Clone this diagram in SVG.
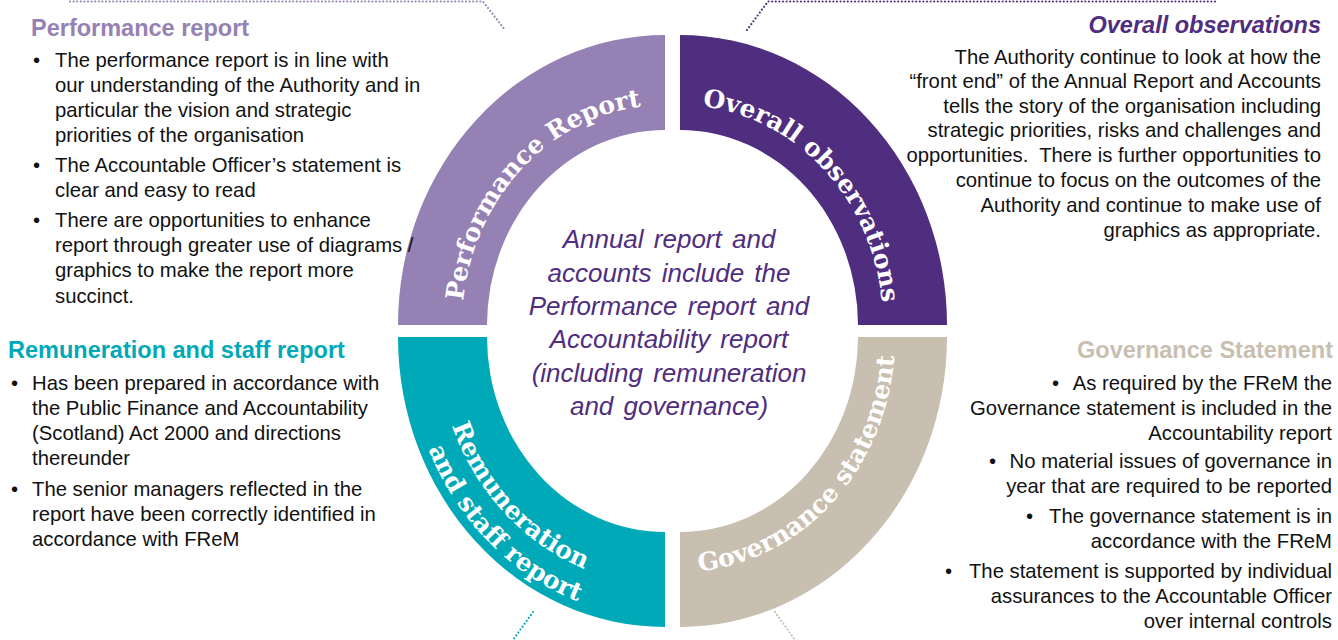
<svg xmlns="http://www.w3.org/2000/svg" width="1338" height="640" viewBox="0 0 1338 640">
<style>
.body{font-family:"Liberation Sans",Arial,sans-serif;font-size:20.3px;fill:#111}
.r{text-anchor:end}
.ttl{font-family:"Liberation Sans",Arial,sans-serif;font-size:23.5px;font-weight:bold}
.ring{font-family:"DejaVu Serif","Liberation Serif",serif;font-weight:bold;font-size:25px;fill:#fff}
.ctr{font-family:"Liberation Sans",Arial,sans-serif;font-size:26px;font-style:italic;fill:#4F2D7F;text-anchor:middle;word-spacing:3px}
.dot{fill:none;stroke-width:2.2;stroke-dasharray:0 3.6;stroke-linecap:round}
</style>
<defs>
<path id="pPR" d="M 462 325 A 203 220 0 0 1 665 105"/>
<path id="pOO" d="M 680 105 A 203 220 0 0 1 883 325"/>
<path id="pGS" d="M 680 572 A 215 235 0 0 0 895 337"/>
<path id="pR1" d="M 437 337 A 228 248 0 0 0 665 585"/>
<path id="pR2" d="M 407 337 A 258 281 0 0 0 665 618"/>
</defs>

<g id="connectors">
<polyline class="dot" stroke="#9581B3" points="70,1.5 483,1.5 505,30"/>
<polyline class="dot" stroke="#4F2D7F" points="747,30 768,1.5 1218,1.5"/>
<polyline class="dot" stroke="#00A9B7" points="533,612 513,640"/>
<polyline class="dot" stroke="#C9BFB1" points="775,612 795,640"/>
</g>

<g id="performance-report">
<path fill="#9581B3" d="M 398 325 A 267 290 0 0 1 665 35 L 665 130 A 178 195 0 0 0 487 325 Z"/>
<text class="ring" font-size="26"><textPath href="#pPR" startOffset="50%" text-anchor="middle">Performance Report</textPath></text>
<text class="ttl" x="31" y="36" fill="#9581B3">Performance report</text>
<g class="body">
<text x="33" y="67">•</text>
<text x="55" y="67">The performance report is in line with</text>
<text x="55" y="92">our understanding of the Authority and in</text>
<text x="55" y="117">particular the vision and strategic</text>
<text x="55" y="142">priorities of the organisation</text>
<text x="33" y="172">•</text>
<text x="55" y="172">The Accountable Officer’s statement is</text>
<text x="55" y="197">clear and easy to read</text>
<text x="33" y="227">•</text>
<text x="55" y="227">There are opportunities to enhance</text>
<text x="55" y="252">report through greater use of diagrams /</text>
<text x="55" y="277">graphics to make the report more</text>
<text x="55" y="303">succinct.</text>
</g>
</g>

<g id="overall-observations">
<path fill="#4F2D7F" d="M 680 35 A 267 290 0 0 1 947 325 L 858 325 A 178 195 0 0 0 680 130 Z"/>
<text class="ring"><textPath href="#pOO" startOffset="50%" text-anchor="middle">Overall observations</textPath></text>
<text class="ttl r" x="1321" y="33" fill="#4F2D7F" font-style="italic">Overall observations</text>
<g class="body r">
<text x="1321" y="64">The Authority continue to look at how the</text>
<text x="1321" y="88">“front end” of the Annual Report and Accounts</text>
<text x="1321" y="113">tells the story of the organisation including</text>
<text x="1321" y="137">strategic priorities, risks and challenges and</text>
<text x="1321" y="162">opportunities.&#160; There is further opportunities to</text>
<text x="1321" y="187">continue to focus on the outcomes of the</text>
<text x="1321" y="212">Authority and continue to make use of</text>
<text x="1321" y="237">graphics as appropriate.</text>
</g>
</g>

<g id="remuneration-staff-report">
<path fill="#00A9B7" d="M 398 337 A 267 290 0 0 0 665 627 L 665 532 A 178 195 0 0 1 487 337 Z"/>
<text class="ring"><textPath href="#pR1" startOffset="51%" text-anchor="middle">Remuneration</textPath></text>
<text class="ring"><textPath href="#pR2" startOffset="53%" text-anchor="middle">and staff report</textPath></text>
<text class="ttl" x="8" y="358" fill="#00A9B7">Remuneration and staff report</text>
<g class="body">
<text x="11" y="390">•</text>
<text x="32" y="390">Has been prepared in accordance with</text>
<text x="32" y="415">the Public Finance and Accountability</text>
<text x="32" y="440">(Scotland) Act 2000 and directions</text>
<text x="32" y="465">thereunder</text>
<text x="11" y="496">•</text>
<text x="32" y="496">The senior managers reflected in the</text>
<text x="32" y="521">report have been correctly identified in</text>
<text x="32" y="546">accordance with FReM</text>
</g>
</g>

<g id="governance-statement">
<path fill="#C9BFB1" d="M 680 627 A 267 290 0 0 0 947 337 L 858 337 A 178 195 0 0 1 680 532 Z"/>
<text class="ring"><textPath href="#pGS" startOffset="50%" text-anchor="middle">Governance statement</textPath></text>
<text class="ttl r" x="1333" y="358" fill="#C9BFB1">Governance Statement</text>
<g class="body">
<text x="1052" y="390">•</text>
<text x="989" y="468">•</text>
<text x="1026" y="523">•</text>
<text x="945" y="578">•</text>
</g>
<g class="body r">
<text x="1332" y="390">As required by the FReM the</text>
<text x="1332" y="415">Governance statement is included in the</text>
<text x="1332" y="440">Accountability report</text>
<text x="1332" y="468">No material issues of governance in</text>
<text x="1332" y="493">year that are required to be reported</text>
<text x="1332" y="523">The governance statement is in</text>
<text x="1332" y="548">accordance with the FReM</text>
<text x="1332" y="578">The statement is supported by individual</text>
<text x="1332" y="603">assurances to the Accountable Officer</text>
<text x="1332" y="628">over internal controls</text>
</g>
</g>

<g id="centre">
<text class="ctr" x="669" y="248">Annual report and</text>
<text class="ctr" x="669" y="282">accounts include the</text>
<text class="ctr" x="669" y="315">Performance report and</text>
<text class="ctr" x="669" y="348">Accountability report</text>
<text class="ctr" x="669" y="382">(including remuneration</text>
<text class="ctr" x="669" y="415">and governance)</text>
</g>
</svg>
